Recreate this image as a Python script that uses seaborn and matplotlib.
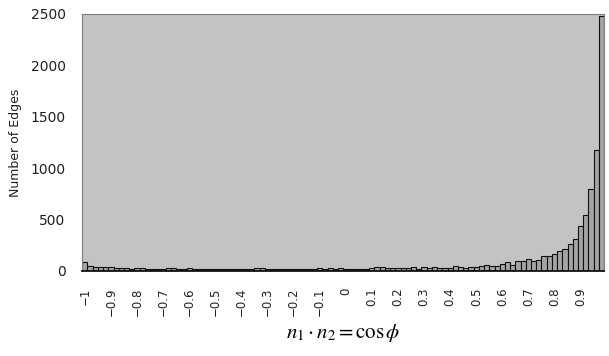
import matplotlib
matplotlib.use("Agg")
import matplotlib.pyplot as plt
import numpy as np
import pandas as pd
import seaborn as sb

# histogram of n1.n2 in 100 bins of width 0.02 from -1 to 1
counts_left = [90, 50, 38, 38, 35, 40, 32, 30, 28, 22,
               30, 25, 22, 22, 18, 20, 30, 25, 20, 18,
               26, 20, 20, 18, 20, 20, 18, 22, 20, 20,
               22, 20, 20, 28, 28, 20, 20, 18, 18, 20,
               18, 20, 20, 18, 20, 30, 20, 30, 22, 30,
               22, 22, 22, 22, 22, 25, 35, 35, 28, 28,
               30]
counts_right = [26, 26, 39, 20, 35, 26, 35, 26, 26, 26,
                49, 39, 26, 35, 35, 49, 58, 45, 45, 68,
                88, 55, 94, 94, 120, 97, 107, 146, 146, 169,
                198, 218, 257, 308, 435, 539, 798, 1174, 2480]
counts = counts_left + counts_right
tick_labels = ["−1", "−0.9", "−0.8", "−0.7", "−0.6", "−0.5", "−0.4", "−0.3",
               "−0.2", "−0.1", "0", "0.1", "0.2", "0.3", "0.4", "0.5", "0.6",
               "0.7", "0.8", "0.9"]

df = pd.DataFrame({"bin": np.arange(len(counts)), "count": counts})

plt.rcParams["mathtext.fontset"] = "stix"
fig = plt.figure(figsize=(6.09, 3.56), dpi=100)
ax = fig.add_axes([0.135, 0.239, 0.857, 0.722])
ax.set_facecolor("#c3c3c3")

sb.barplot(data=df, x="bin", y="count", color="#a4a4a4", saturation=1,
           edgecolor="#101010", linewidth=0.8, width=1.0, ax=ax)

ax.set_xlim(-0.5, len(counts) - 0.5)
ax.set_ylim(0, 2500)
ax.set_yticks([0, 500, 1000, 1500, 2000, 2500])
ax.set_xticks(range(0, 100, 5))
ax.set_xticklabels(tick_labels, rotation=90, fontsize=8.5, color="#202020")
ax.tick_params(axis="y", labelsize=10, length=0, pad=12, labelcolor="#202020")
ax.tick_params(axis="x", length=0, pad=12)

for s in ["top", "left", "right"]:
    ax.spines[s].set_color("#808080")
    ax.spines[s].set_linewidth(0.8)
ax.spines["bottom"].set_color("black")
ax.spines["bottom"].set_linewidth(1.2)

ax.set_ylabel("Number of Edges", fontsize=9, labelpad=6, color="#202020")
ax.set_xlabel(r"$n_1 \cdot n_2 = \cos\phi$", fontsize=15, labelpad=4)

fig.savefig("out.png", dpi=100)
